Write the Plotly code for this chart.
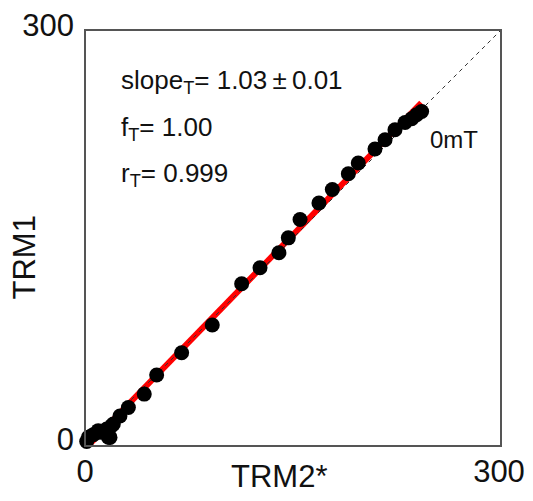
import plotly.graph_objects as go

# TRM2* (x) and TRM1 (y) values
trm2 = [0.5, 1.7, 5.3, 8.9, 10.1, 15.0, 16.2, 17.4, 18.6, 19.8, 24.6, 30.7, 42.2, 51.2,
        69.3, 91.5, 112.8, 126.1, 139.8, 146.6, 155.1, 168.8, 178.5, 190.1, 197.3,
        209.4, 216.7, 223.9, 231.2, 236.0, 239.6, 243.2]
trm1 = [2.5, 5.6, 7.5, 10.4, 9.2, 11.6, 5.6, 5.5, 14.0, 15.2, 21.0, 27.2, 36.9, 50.7,
        66.8, 87.0, 116.9, 128.4, 139.3, 150.1, 163.4, 175.4, 185.1, 196.6, 204.3,
        214.5, 221.2, 228.4, 233.7, 236.4, 239.3, 241.7]

# fitted line endpoints and 1:1 reference line
fit_x = [2, 243]
fit_y = [0, 248]
ref_x = [0, 300]
ref_y = [0, 300]

tick_vals = [0, 300]
tick_text = ["0", "300"]

FONT = "Liberation Sans, Arial, sans-serif"

# page body has an 8px default margin, so the figure is drawn 8px smaller and offset
OFF = 8
PL, PT, PW, PH = 86 - OFF, 31 - OFF, 414, 414

fig = go.Figure()
fig.add_trace(go.Scatter(x=fit_x, y=fit_y, mode="lines",
                         line=dict(color="#ff0000", width=6), hoverinfo="skip"))
fig.add_trace(go.Scatter(x=ref_x, y=ref_y, mode="lines",
                         line=dict(color="#333333", width=1, dash="4px,4px"), hoverinfo="skip"))
fig.add_trace(go.Scatter(x=trm2, y=trm1, mode="markers", cliponaxis=False,
                         marker=dict(color="black", size=15, line=dict(width=0))))

axis_common = dict(range=[0, 300], tickvals=tick_vals, ticktext=tick_text,
                   showgrid=False, zeroline=False, showline=True, mirror=True,
                   linecolor="#555555", linewidth=1.5, ticks="", automargin=False,
                   ticklabeloverflow="allow",
                   tickfont=dict(family=FONT, size=31, color="#111111"))

fig.update_layout(
    width=533 - OFF, height=501 - OFF,
    margin=dict(l=PL, r=533 - OFF - PL - PW, t=PT, b=501 - OFF - PT - PH),
    paper_bgcolor="white", plot_bgcolor="white",
    showlegend=False,
    xaxis=dict(**axis_common, ticklabelstandoff=-2, ticklabelshift=-1),
    yaxis=dict(**axis_common, ticklabelstandoff=4, ticklabelshift=-6),
)


def px(x):
    return (x - 86) / PW


def py(y):
    return 1 - (y - 31) / PH


ann_font = dict(family=FONT, size=26, color="#111111")
annotations = [
    dict(text="slope<sub>T</sub>= 1.03\u2009\u00b1\u20090.01", x=119, y=81),
    dict(text="f<sub>T</sub>= 1.00", x=119, y=128),
    dict(text="r<sub>T</sub>= 0.999", x=119, y=174),
]
for a in annotations:
    fig.add_annotation(text=a["text"], xref="paper", yref="paper",
                       x=px(a["x"]), y=py(a["y"]),
                       xanchor="left", yanchor="middle", showarrow=False, font=ann_font)

fig.add_annotation(text="0mT", xref="paper", yref="paper",
                   x=px(428), y=py(139),
                   xanchor="left", yanchor="middle", showarrow=False,
                   font=dict(family=FONT, size=24, color="#111111"))

fig.add_annotation(text="TRM2*", xref="paper", yref="paper",
                   x=px(279), y=py(476),
                   xanchor="center", yanchor="middle", showarrow=False,
                   font=dict(family=FONT, size=31, color="#111111"))
fig.add_annotation(text="TRM1", xref="paper", yref="paper",
                   x=px(23.5), y=py(258), textangle=-90,
                   xanchor="center", yanchor="middle", showarrow=False,
                   font=dict(family=FONT, size=31, color="#111111"))

fig.write_html("out.html")
